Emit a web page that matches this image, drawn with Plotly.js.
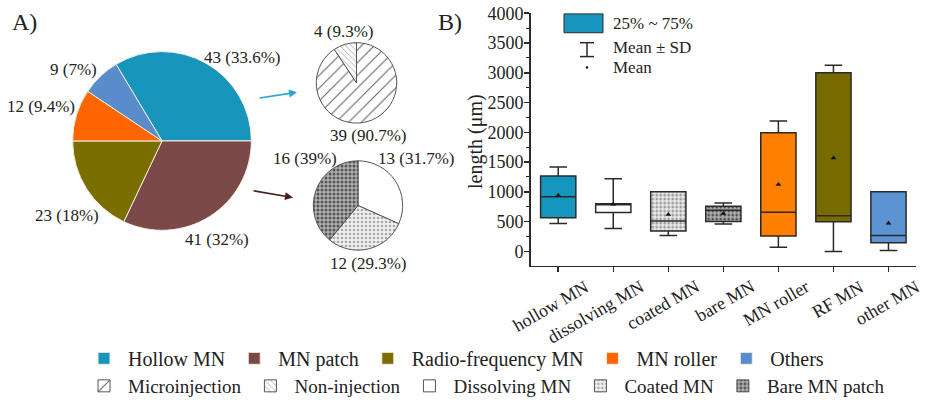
<!DOCTYPE html>
<html>
<head>
<meta charset="utf-8">
<script src="https://cdn.plot.ly/plotly-3.0.1.min.js"></script>
<style>html,body{margin:0;padding:0;background:#fff;}#chart{width:925px;height:405px;}</style>
</head>
<body>
<div id="chart"></div>
<script>
// ---------- data ----------
const pieLabels = ['Hollow MN', 'MN patch', 'Radio-frequency MN', 'MN roller', 'Others'];
const pieValues = [43, 41, 23, 12, 9];
const piePct = ['33.6%', '32%', '18%', '9.4%', '7%'];

const hollowLabels = ['Microinjection', 'Non-injection'];
const hollowValues = [39, 4];
const hollowPct = ['90.7%', '9.3%'];

const patchLabels = ['Dissolving MN', 'Coated MN', 'Bare MN patch'];
const patchValues = [13, 12, 16];
const patchPct = ['31.7%', '29.3%', '39%'];

const boxCategories = ['hollow MN', 'dissolving MN', 'coated MN', 'bare MN', 'MN roller', 'RF MN', 'other MN'];
const boxQ1 = [567, 655, 344, 503, 261, 500, 144];
const boxMedian = [917, 800, 511, 693, 656, 600, 267];
const boxQ3 = [1267, 800, 1000, 759, 1994, 3000, 1000];
const boxMean = [944, 793, 622, 636, 1122, 1567, 472];
const sdLow = [467, 383, 267, 460, 72, 0, 17];
const sdHigh = [1417, 1222, 972, 814, 2189, 3128, 933];

// ---------- styles / layout positions ----------
const W = 925, H = 405;
const px = x => x / W;
const py = y => 1 - y / H;
const FONT = '"Liberation Serif", "Times New Roman", Times, serif';

const pieColors = ['#1795bd', '#7b4a48', '#7a6e00', '#ff6600', '#5a8ccc'];
const boxFill = ['#1596be', '#ffffff', '#e4e4e4', '#a9a9a9', '#ff7f00', '#776b00', '#5b93d3'];
// dotted texture for some boxes (null = plain fill)
const boxPattern = [null, null, {fg: '#9a9a9a', bg: '#ededed'}, {fg: '#505050', bg: '#b4b4b4'}, null, null, null];

const bigLabelPos = [[242, 58], [217, 241], [67, 217], [41, 107], [73, 70]];
const hollowLabelPos = [[368, 137], [343, 32]];
const patchLabelPos = [[416, 160], [368, 265], [305, 160]];

const total = pieValues.reduce((a, b) => a + b, 0);
const BOXW = 0.64;

const traces = [
  {
    type: 'pie', labels: pieLabels, values: pieValues, sort: false,
    direction: 'clockwise', rotation: 90 - 360 * pieValues[0] / total,
    domain: {x: [px(72), px(252)], y: [py(232), py(52)]},
    marker: {colors: pieColors, line: {color: '#f3eedf', width: 1}},
    textinfo: 'none', hoverinfo: 'none', legend: 'legend'
  },
  {
    type: 'pie', labels: hollowLabels, values: hollowValues, sort: false,
    direction: 'clockwise', rotation: 0,
    domain: {x: [px(316), px(397)], y: [py(124), py(43)]},
    marker: {colors: ['#ffffff', '#ffffff'], line: {color: '#555', width: 1},
      pattern: {shape: ['/', '\\'], fgcolor: '#666', bgcolor: '#ffffff', size: [9, 4], solidity: 0.12}},
    textinfo: 'none', hoverinfo: 'none', legend: 'legend2'
  },
  {
    type: 'pie', labels: patchLabels, values: patchValues, sort: false,
    direction: 'clockwise', rotation: 0,
    domain: {x: [px(313), px(403)], y: [py(252), py(162)]},
    marker: {colors: ['#ffffff', '#e6e6e6', '#9d9d9d'], line: {color: '#555', width: 1},
      pattern: {shape: ['', '.', '.'], fgcolor: ['#333', '#aaaaaa', '#555555'], bgcolor: ['#ffffff', '#f0f0f0', '#b0b0b0'], size: [6, 4, 4], solidity: [0.2, 0.35, 0.45]}},
    textinfo: 'none', hoverinfo: 'none', legend: 'legend2'
  }
];

// textured interquartile fill (drawn beneath the transparent box outline)
boxCategories.forEach((c, i) => {
  const p = boxPattern[i];
  if (!p) return;
  traces.push({
    type: 'bar', x: [c], base: [boxQ1[i]], y: [boxQ3[i] - boxQ1[i]], width: BOXW,
    marker: {color: p.bg, line: {width: 0}, pattern: {shape: '.', fgcolor: p.fg, bgcolor: p.bg, size: 4, solidity: 0.4}},
    showlegend: false, hoverinfo: 'none'
  });
});

boxCategories.forEach((c, i) => {
  traces.push({
    type: 'box', x: [c], q1: [boxQ1[i]], median: [boxMedian[i]], q3: [boxQ3[i]],
    lowerfence: [sdLow[i]], upperfence: [sdHigh[i]],
    width: BOXW, whiskerwidth: 0.5,
    fillcolor: boxPattern[i] ? 'rgba(0,0,0,0)' : boxFill[i], line: {color: '#2a2a2a', width: 1.5},
    boxpoints: false, showlegend: false, hoverinfo: 'none', xaxis: 'x', yaxis: 'y'
  });
});
traces.push({
  type: 'scatter', mode: 'markers', x: boxCategories, y: boxMean,
  marker: {symbol: 'triangle-up', size: 5, color: '#111'},
  showlegend: false, hoverinfo: 'none'
});

const annotations = [];
const addLabels = (vals, pcts, pos) => vals.forEach((v, i) => annotations.push({
  xref: 'paper', yref: 'paper', x: px(pos[i][0]), y: py(pos[i][1]), xanchor: 'center', yanchor: 'middle',
  text: v + ' (' + pcts[i] + ')', showarrow: false, font: {size: 17, family: FONT, color: '#222'}
}));
addLabels(pieValues, piePct, bigLabelPos);
addLabels(hollowValues, hollowPct, hollowLabelPos);
addLabels(patchValues, patchPct, patchLabelPos);

annotations.push({xref: 'paper', yref: 'paper', x: px(24), y: py(22), xanchor: 'center', yanchor: 'middle', text: 'A)', showarrow: false, font: {size: 24, family: FONT, color: '#222'}});
annotations.push({xref: 'paper', yref: 'paper', x: px(450), y: py(22), xanchor: 'center', yanchor: 'middle', text: 'B)', showarrow: false, font: {size: 24, family: FONT, color: '#222'}});

// arrows from main pie to detail pies
annotations.push({xref: 'paper', yref: 'paper', x: px(297), y: py(93), ax: -39, ay: 6, text: '', showarrow: true,
  arrowhead: 2, arrowsize: 1, arrowwidth: 1.6, arrowcolor: '#2ba6d4'});
annotations.push({xref: 'paper', yref: 'paper', x: px(293), y: py(199), ax: -41, ay: -7, text: '', showarrow: true,
  arrowhead: 2, arrowsize: 1, arrowwidth: 1.6, arrowcolor: '#4a1c1c'});

// rotated category labels
boxCategories.forEach((c, i) => annotations.push({
  xref: 'x', yref: 'paper', x: c, y: py(276), xanchor: 'right', yanchor: 'top', xshift: 37,
  textangle: -30, text: c, showarrow: false, font: {size: 18, family: FONT, color: '#222'}
}));

// y-axis title
annotations.push({xref: 'paper', yref: 'paper', x: px(476), y: py(142), xanchor: 'center', yanchor: 'middle',
  textangle: -90, text: 'length (μm)', showarrow: false, font: {size: 20, family: FONT, color: '#222'}});

// inner key of box plot
const keyText = ['25% ~ 75%', 'Mean ± SD', 'Mean'];
const keyY = [24, 48, 68];
keyText.forEach((t, i) => annotations.push({
  xref: 'paper', yref: 'paper', x: px(611), y: py(keyY[i]), xanchor: 'left', yanchor: 'middle', text: t, showarrow: false,
  font: {size: 17, family: FONT, color: '#222'}
}));

const shapes = [
  {type: 'rect', xref: 'paper', yref: 'paper', x0: px(564), x1: px(603), y0: py(14), y1: py(33), fillcolor: '#1596be', line: {color: '#2a2a2a', width: 1}},
  {type: 'line', xref: 'paper', yref: 'paper', x0: px(587), x1: px(587), y0: py(43), y1: py(57), line: {color: '#2a2a2a', width: 1.5}},
  {type: 'line', xref: 'paper', yref: 'paper', x0: px(580), x1: px(594), y0: py(43), y1: py(43), line: {color: '#2a2a2a', width: 1.5}},
  {type: 'line', xref: 'paper', yref: 'paper', x0: px(580), x1: px(594), y0: py(57), y1: py(57), line: {color: '#2a2a2a', width: 1.5}},
  {type: 'circle', xref: 'paper', yref: 'paper', x0: px(585.8), x1: px(588.2), y0: py(66.8), y1: py(69.2), fillcolor: '#111', line: {width: 0}}
];

const layout = {
  width: W, height: H,
  margin: {l: 0, r: 0, t: 0, b: 0},
  paper_bgcolor: '#fff', plot_bgcolor: 'rgba(0,0,0,0)',
  font: {family: FONT, color: '#222'},
  showlegend: true,
  barmode: 'overlay',
  legend: {orientation: 'h', x: px(80), xanchor: 'left', y: py(361), yanchor: 'middle', itemwidth: 38,
    font: {size: 20, family: FONT, color: '#222'}, bgcolor: 'rgba(0,0,0,0)', traceorder: 'normal'},
  legend2: {orientation: 'h', x: px(80), xanchor: 'left', y: py(389), yanchor: 'middle', itemwidth: 38,
    font: {size: 19, family: FONT, color: '#222'}, bgcolor: 'rgba(0,0,0,0)', traceorder: 'normal'},
  xaxis: {domain: [px(530.7), px(916)], range: [-0.5, 6.5], type: 'category',
    categoryorder: 'array', categoryarray: boxCategories,
    showticklabels: false, ticks: 'outside', ticklen: 5, tickwidth: 1.5, tickcolor: '#2a2a2a',
    showline: true, linewidth: 1.5, linecolor: '#2a2a2a', showgrid: false, zeroline: false, fixedrange: true},
  yaxis: {domain: [py(267.7), py(13.3)], range: [-240, 4000], tick0: 0, dtick: 500,
    ticks: 'outside', ticklen: 5, tickwidth: 1.5, tickcolor: '#2a2a2a',
    minor: {dtick: 250, tick0: 0, ticks: 'outside', ticklen: 3, tickwidth: 1, tickcolor: '#2a2a2a'},
    showline: true, linewidth: 1.5, linecolor: '#2a2a2a', showgrid: false, zeroline: false,
    ticklabelstandoff: -3,
    tickfont: {size: 18, family: FONT, color: '#222'}},
  annotations: annotations,
  shapes: shapes,
  boxmode: 'overlay'
};

Plotly.newPlot('chart', traces, layout, {displayModeBar: false, staticPlot: true});
</script>
</body>
</html>
